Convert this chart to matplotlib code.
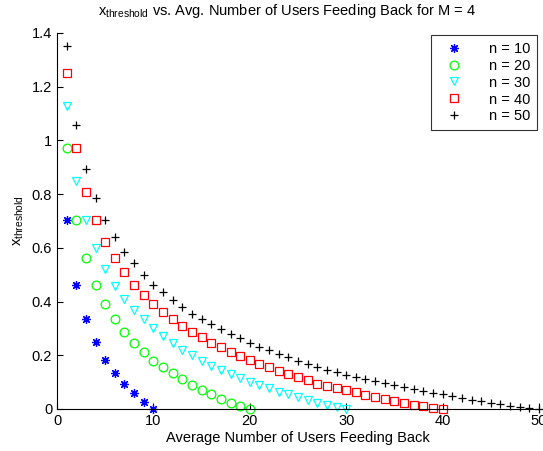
import numpy as np
import matplotlib
matplotlib.use("Agg")
import matplotlib.pyplot as plt
from matplotlib.ticker import FormatStrFormatter

plt.rcParams['font.family'] = ['Liberation Sans', 'DejaVu Sans']
plt.rcParams['mathtext.fontset'] = 'custom'
plt.rcParams['mathtext.rm'] = 'Liberation Sans'

# x_threshold values, one list per n
n10 = [0.704, 0.462, 0.335, 0.248, 0.182, 0.133, 0.092, 0.058, 0.027, 0.0]
n20 = [0.970, 0.704, 0.561, 0.462, 0.391, 0.335, 0.285, 0.247, 0.211, 0.180,
       0.158, 0.135, 0.110, 0.089, 0.071, 0.055, 0.037, 0.023, 0.012, 0.0]
n30 = [1.128, 0.850, 0.704, 0.598, 0.521, 0.459, 0.410, 0.369, 0.335, 0.302,
       0.272, 0.245, 0.220, 0.201, 0.180, 0.161, 0.145, 0.130, 0.114, 0.099,
       0.089, 0.077, 0.065, 0.055, 0.043, 0.032, 0.023, 0.016, 0.008, 0.0]
n40 = [1.251, 0.970, 0.809, 0.704, 0.623, 0.561, 0.509, 0.462, 0.424, 0.391,
       0.361, 0.335, 0.309, 0.287, 0.267, 0.247, 0.231, 0.211, 0.197, 0.181,
       0.168, 0.157, 0.143, 0.131, 0.118, 0.108, 0.094, 0.087, 0.079, 0.071,
       0.062, 0.053, 0.046, 0.037, 0.031, 0.022, 0.016, 0.011, 0.005, 0.0]
n50 = [1.351, 1.057, 0.894, 0.784, 0.704, 0.639, 0.583, 0.542, 0.499, 0.462,
       0.435, 0.406, 0.381, 0.355, 0.335, 0.315, 0.297, 0.279, 0.263, 0.247,
       0.232, 0.220, 0.206, 0.193, 0.180, 0.167, 0.155, 0.145, 0.136, 0.128,
       0.119, 0.111, 0.104, 0.096, 0.089, 0.082, 0.073, 0.067, 0.061, 0.055,
       0.048, 0.040, 0.034, 0.029, 0.024, 0.019, 0.013, 0.007, 0.002, 0.0]

series = [n10, n20, n30, n40, n50]
labels = ['n = 10', 'n = 20', 'n = 30', 'n = 40', 'n = 50']
markers = [(8, 2, 0), 'o', 'v', 's', '+']
colors = ['#0000ff', '#00ff00', '#00ffff', '#ff0000', '#000000']

fig = plt.figure(figsize=(5.43, 4.51), dpi=100)
ax = fig.add_axes([57/543, 42/451, 482/543, 376/451])

for ys, lab, m, c in zip(series, labels, markers, colors):
    xs = np.arange(1, len(ys) + 1)
    ax.plot(xs, ys, linestyle='none', marker=m, markersize=6.3,
            markerfacecolor='none', markeredgecolor=c, markeredgewidth=0.9,
            label=lab, clip_on=False)

ax.set_xlim(0, 50)
ax.set_ylim(0, 1.4)
ax.set_xticks(np.arange(0, 51, 10))
ax.set_yticks(np.arange(0, 1.41, 0.2))
ax.yaxis.set_major_formatter(FormatStrFormatter('%g'))
ax.tick_params(direction='in', labelsize=10.5, length=4)
ax.spines['top'].set_visible(False)
ax.spines['right'].set_visible(False)

ax.set_xlabel('Average Number of Users Feeding Back', fontsize=10.5, labelpad=2)
ax.set_ylabel(r'$\mathregular{x_{threshold}}$', fontsize=10.5, labelpad=4)
fig.text(287/543, 1 - 11/451,
         r'$\mathregular{x_{threshold}}$ vs. Avg. Number of Users Feeding Back for M = 4',
         ha='center', va='center', fontsize=10.5)

leg = ax.legend(loc='upper right', bbox_to_anchor=(1.0, 1.0), fontsize=10.5,
                frameon=True, fancybox=False, edgecolor='black',
                borderpad=0.45, borderaxespad=0.15, handletextpad=1.3,
                labelspacing=0.2, handlelength=2.2)
leg.get_frame().set_linewidth(0.8)

fig.savefig('out.png', dpi=100)
